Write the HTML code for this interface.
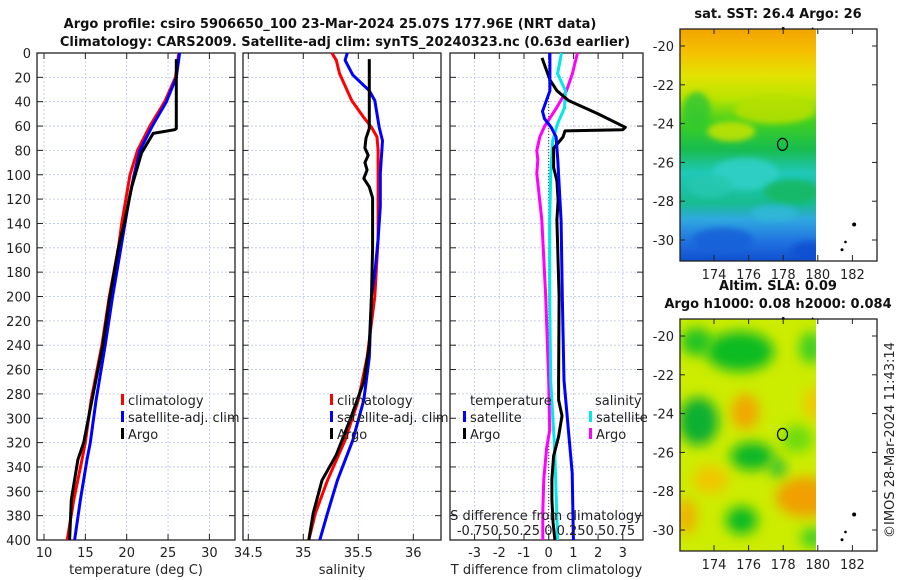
<!DOCTYPE html>
<html><head><meta charset="utf-8"><style>
body{margin:0;background:#fff;}
svg{display:block;font-family:"DejaVu Sans","Liberation Sans",sans-serif;}
.t{font-size:13px;fill:#222;}
.b{font-size:13px;font-weight:bold;fill:#111;}
</style></head><body>
<svg id="fig" width="900" height="580" viewBox="0 0 900 580" xmlns="http://www.w3.org/2000/svg">
<defs>
<filter id="bl" x="-50%" y="-50%" width="200%" height="200%"><feGaussianBlur stdDeviation="6"/></filter>
<filter id="bl2" x="-50%" y="-50%" width="200%" height="200%"><feGaussianBlur stdDeviation="3"/></filter>
<linearGradient id="sstg" x1="0" y1="0" x2="0" y2="1">
<stop offset="0" stop-color="#f2a400"/><stop offset="0.1" stop-color="#f5c000"/><stop offset="0.2" stop-color="#e4e200"/>
<stop offset="0.3" stop-color="#b8e400"/><stop offset="0.4" stop-color="#40d020"/><stop offset="0.52" stop-color="#18bc50"/>
<stop offset="0.62" stop-color="#20c8b8"/><stop offset="0.75" stop-color="#18bc90"/><stop offset="0.82" stop-color="#30a8e0"/>
<stop offset="0.92" stop-color="#2070e0"/><stop offset="1" stop-color="#1050d0"/></linearGradient>
<clipPath id="c1"><rect x="680" y="29" width="136" height="232"/></clipPath>
<clipPath id="c2"><rect x="680" y="319" width="136" height="232"/></clipPath>
</defs>
<text class="b" x="330" y="28" text-anchor="middle">Argo profile: csiro 5906650_100 23-Mar-2024 25.07S 177.96E (NRT data)</text>
<text class="b" x="345" y="46" text-anchor="middle">Climatology: CARS2009. Satellite-adj clim: synTS_20240323.nc (0.63d earlier)</text>
<g id="maps"></g>
<g id="plots"></g>
</svg>
<script>
// ---- data ----
const tDepth = [0,20,40,60,80,100,120,140,160,200,240,285,320,334,367,400];
const tClim  = [26.3,25.9,24.6,22.8,21.3,20.4,19.9,19.4,19.0,17.9,17.0,15.7,15.0,14.6,13.6,12.8];
const tSat   = [26.4,26.0,24.8,23.1,21.6,20.9,20.3,19.8,19.3,18.3,17.4,16.3,15.6,15.2,14.4,13.7];
const aDepth = [5,40,62,63,66,82,110,137,160,203,240,285,320,334,367,400];
const tArgo  = [26.0,26.0,26.0,25.8,23.2,21.8,20.6,19.8,19.0,17.9,17.1,15.8,14.8,14.1,13.3,13.1];
const sDepthC = [0,6,17,25,39,53,61,69,80,100,153,200,250,285,318,351,378,400];
const sClim   = [35.26,35.30,35.33,35.37,35.44,35.55,35.62,35.67,35.68,35.68,35.68,35.65,35.58,35.50,35.38,35.22,35.11,35.05];
const sDepthS = [0,6,18,31,39,61,72,99,126,153,181,200,250,285,318,351,378,400];
const sSat    = [35.40,35.38,35.45,35.60,35.65,35.69,35.72,35.70,35.70,35.68,35.65,35.62,35.60,35.55,35.45,35.31,35.22,35.15];
const sDepthA = [5,62,70,78,84,90,96,103,110,119,160,200,240,270,300,330,351,378,400];
const sArgo   = [35.60,35.60,35.57,35.56,35.59,35.56,35.58,35.55,35.60,35.63,35.63,35.62,35.60,35.55,35.43,35.30,35.17,35.09,35.05];
const dDepth  = [4,22,31,39,50,61,63,64,69,74,78,94,105,121,137,200,269,285,298,315,331,350,367,386,400];
const dTArgo  = [-0.27,0.05,0.33,0.8,2.0,3.1,3.0,0.66,0.58,0.38,0.2,0.2,0.33,0.38,0.33,0.42,0.4,0.4,0.54,0.4,0.2,0.13,0.13,0.18,0.25];
const dDepthTS = [0,31,48,54,61,69,88,138,200,269,345,400];
const dTSat    = [0.05,0.05,-0.25,-0.17,0.1,0.3,0.37,0.5,0.55,0.62,0.95,1.0];
const dDepthSS = [0,17,31,45,58,72,99,137,200,269,324,400];
const dSSat    = [0.13,0.09,0.17,0.16,0.09,0.04,0.02,0.01,0.01,0.02,0.06,0.09];
const dDepthSA = [0,17,31,45,60,69,80,88,99,137,200,269,310,324,350,377,400];
const dSArgo   = [0.29,0.24,0.18,0.08,-0.04,-0.09,-0.12,-0.11,-0.12,-0.07,-0.03,0,0.01,-0.02,-0.05,-0.06,-0.06];
const depthTicks = [0,20,40,60,80,100,120,140,160,180,200,220,240,260,280,300,320,340,360,380,400];
const tTicks = [10,15,20,25,30];
const sTicks = [34.5,35,35.5,36];
const dTicks = [-3,-2,-1,0,1,2,3];
const lonTicks = [174,176,178,180,182];
const latTicks = [-20,-22,-24,-26,-28,-30];

const NS='http://www.w3.org/2000/svg';
function mk(tag,attrs,parent){const e=document.createElementNS(NS,tag);for(const k in attrs)e.setAttribute(k,attrs[k]);parent.appendChild(e);return e;}
const plots=document.getElementById('plots');
const Y0=53,Y1=540;
const yD=d=>Y0+(d/400)*(Y1-Y0);
const panels=[
 {name:'temperature-panel',x0:37,x1:235,sx:v=>44+(v-10)*8.27,ticks:tTicks,label:'temperature (deg C)'},
 {name:'salinity-panel',x0:243,x1:441,sx:v=>248.3+(v-34.5)*110,ticks:sTicks,label:'salinity'},
 {name:'difference-panel',x0:450,x1:643,sx:v=>548.7+v*24.7,ticks:dTicks,label:'T difference from climatology'}
];
panels.forEach((p,i)=>{
 const g=mk('g',{},plots);
 
 
 depthTicks.forEach(d=>{
  mk('line',{x1:p.x0,x2:p.x1,y1:yD(d),y2:yD(d),stroke:'#b8c4e8','stroke-width':0.8,'stroke-dasharray':'2,2'},g);
  mk('line',{x1:p.x0,x2:p.x0+6,y1:yD(d),y2:yD(d),stroke:'#222'},g);
  mk('line',{x1:p.x1-6,x2:p.x1,y1:yD(d),y2:yD(d),stroke:'#222'},g);
  if(i===0){const t=mk('text',{x:p.x0-6,y:yD(d)+5,'text-anchor':'end',class:'t'},g);t.textContent=d;
   
   }
 });
 p.ticks.forEach(v=>{
  const x=p.sx(v);
  mk('line',{x1:x,x2:x,y1:Y0,y2:Y1,stroke:'#b8c4e8','stroke-width':0.8,'stroke-dasharray':'2,2'},g);
  mk('line',{x1:x,x2:x,y1:Y1-6,y2:Y1,stroke:'#222'},g);
  mk('line',{x1:x,x2:x,y1:Y0,y2:Y0+6,stroke:'#222'},g);
  const t=mk('text',{x:x,y:557,'text-anchor':'middle',class:'t'},g);t.textContent=v;
  
  
 });
 mk('rect',{x:p.x0,y:Y0,width:p.x1-p.x0,height:Y1-Y0,fill:'none',stroke:'#222','stroke-width':1.3},g);
 const lt=mk('text',{x:(p.x0+p.x1)/2,y:574,'text-anchor':'middle',class:'t'},g);lt.textContent=p.label;
 
 
 p.g=g;
});
function line(g,xs,ds,sx,col,name){
 const pts=xs.map((v,k)=>sx(v).toFixed(1)+','+yD(ds[k]).toFixed(1)).join(' ');
 const e=mk('polyline',{points:pts,fill:'none',stroke:col,'stroke-width':3,'stroke-linejoin':'round'},g);
 
 
}
const P=panels;
line(P[0].g,tClim,tDepth,P[0].sx,'#ff0000','temp-climatology-line');
line(P[0].g,tSat,tDepth,P[0].sx,'#0000ff','temp-satellite-line');
line(P[0].g,tArgo,aDepth,P[0].sx,'#000','temp-argo-line');
line(P[1].g,sClim,sDepthC,P[1].sx,'#ff0000','sal-climatology-line');
line(P[1].g,sSat,sDepthS,P[1].sx,'#0000ff','sal-satellite-line');
line(P[1].g,sArgo,sDepthA,P[1].sx,'#000','sal-argo-line');
const zl=mk('line',{x1:548.7,x2:548.7,y1:Y0,y2:Y1,stroke:'#333','stroke-width':1,'stroke-dasharray':'1,2'},P[2].g);


const ssx=v=>548.7+v*98.8;
line(P[2].g,dSArgo,dDepthSA,ssx,'#ff00ff','sal-diff-argo-line');
line(P[2].g,dSSat,dDepthSS,ssx,'#00e8e8','sal-diff-satellite-line');
line(P[2].g,dTArgo,dDepth,P[2].sx,'#000','temp-diff-argo-line');
line(P[2].g,dTSat,dDepthTS,P[2].sx,'#0000ff','temp-diff-satellite-line');
function legend(g,x,y,col,txt){
 const gg=mk('g',{},g);
 
 
 mk('rect',{x:x,y:y-11,width:3,height:11,fill:col},gg);
 const t=mk('text',{x:x+7,y:y,class:'t'},gg);t.textContent=txt;
}
legend(P[0].g,121,405,'#ff0000','climatology');
legend(P[0].g,121,422,'#0000ff','satellite-adj. clim');
legend(P[0].g,121,439,'#000','Argo');
legend(P[1].g,330,405,'#ff0000','climatology');
legend(P[1].g,330,422,'#0000ff','satellite-adj. clim');
legend(P[1].g,330,439,'#000','Argo');
let tt=mk('text',{x:470,y:405,class:'t'},P[2].g);tt.textContent='temperature';


tt=mk('text',{x:595,y:405,class:'t'},P[2].g);tt.textContent='salinity';


legend(P[2].g,463,422,'#0000ff','satellite');
legend(P[2].g,463,439,'#000','Argo');
legend(P[2].g,589,422,'#00e8e8','satellite');
legend(P[2].g,589,439,'#ff00ff','Argo');
tt=mk('text',{x:546,y:520,'text-anchor':'middle',class:'t'},P[2].g);tt.textContent='S difference from climatology';


tt=mk('text',{x:546,y:535,'text-anchor':'middle',class:'t'},P[2].g);tt.textContent='-0.750.50.25 0 0.250.50.75';



// ---- maps ----
const maps=document.getElementById('maps');
const lx=l=>714+(l-174)*17.3;
function drawMap(top,name,clip,titleLines,fillFn){
 const g=mk('g',{},maps);
 
 
 const ly=l=>top+17+(-20-l)*19.4;
 const fg=mk('g',{'clip-path':'url(#'+clip+')'},g);
 fillFn(fg,ly);
 const circ=mk('ellipse',{cx:lx(177.96),cy:ly(-25.07),rx:5,ry:6,fill:'none',stroke:'#000','stroke-width':1.2},g);
 
 
 [[182.1,-29.2,2],[181.6,-30.1,1.3],[181.4,-30.5,1.5],[178.0,-19.1,1.5],[179.7,-19.1,1]].forEach(p=>mk('circle',{cx:lx(p[0]),cy:ly(p[1]),r:p[2],fill:'#000'},g));
 lonTicks.forEach(l=>{const x=lx(l);
  mk('line',{x1:x,x2:x,y1:top+226,y2:top+232,stroke:'#222'},g);
  mk('line',{x1:x,x2:x,y1:top,y2:top+5,stroke:'#222'},g);
  const t=mk('text',{x:x,y:top+250,'text-anchor':'middle',class:'t'},g);t.textContent=l;
  
  });
 latTicks.forEach(l=>{const y=ly(l);
  mk('line',{x1:680,x2:685,y1:y,y2:y,stroke:'#222'},g);
  mk('line',{x1:872,x2:877,y1:y,y2:y,stroke:'#222'},g);
  const t=mk('text',{x:674,y:y+5,'text-anchor':'end',class:'t'},g);t.textContent=l;
  
  });
 mk('rect',{x:680,y:top,width:197,height:232,fill:'none',stroke:'#222','stroke-width':1.3},g);
 titleLines.forEach((s,k)=>{const t=mk('text',{x:778,y:top-11-(titleLines.length-1-k)*18,'text-anchor':'middle',class:'b'},g);t.textContent=s;
  
  });
}
const sstBlobs=[[177.5,-23.3,40,14,'#b8e000'],[175,-24.4,24,10,'#c8e400'],[173,-23.3,14,18,'#30c830'],[175.8,-26.6,34,16,'#30d0c8'],[173.8,-27.2,22,12,'#28c8b0'],[178.5,-27.5,28,12,'#18b860'],[174.5,-30,30,12,'#1860d8'],[179.5,-30.6,18,10,'#1050d0'],[177.5,-28.6,24,8,'#30b8d8']];
drawMap(29,'sst-map','c1',['sat. SST: 26.4 Argo: 26'],(fg,ly)=>{
 mk('rect',{x:680,y:29,width:136,height:232,fill:'url(#sstg)'},fg);
 sstBlobs.forEach(b=>mk('ellipse',{cx:lx(b[0]),cy:ly(b[1]),rx:b[2],ry:b[3],fill:b[4],filter:'url(#bl2)',opacity:0.85},fg));
});
const slaBlobs=[[175.5,-20.8,34,20,'#10bc20'],[173,-20.3,16,14,'#20c420'],[173.1,-24.4,20,24,'#10b030'],[176.2,-26.2,22,14,'#10b828'],[177.7,-26.8,8,10,'#30c030'],[175.6,-29.5,16,14,'#10bc20'],[179.6,-20.6,12,16,'#40d020'],[179.7,-30.4,12,10,'#40d020'],[178.8,-25.3,16,14,'#70dc10'],[175.8,-23.9,14,18,'#f0a800'],[179.3,-28.3,30,20,'#f0a000'],[173.8,-27.4,18,14,'#f0c800'],[172.4,-29.3,10,18,'#f0b000'],[179.8,-23.5,10,16,'#f0c800']];
drawMap(319,'sla-map','c2',['Altim. SLA: 0.09','Argo h1000: 0.08 h2000: 0.084'],(fg,ly)=>{
 mk('rect',{x:680,y:319,width:136,height:232,fill:'#ccec00'},fg);
 slaBlobs.forEach(b=>mk('ellipse',{cx:lx(b[0]),cy:ly(b[1]),rx:b[2],ry:b[3],fill:b[4],filter:'url(#bl)'},fg));
});
const st=mk('text',{x:0,y:0,class:'t',transform:'translate(894,440) rotate(-90)','text-anchor':'middle'},maps);
st.textContent='©IMOS 28-Mar-2024 11:43:14';


</script>
</body></html>
